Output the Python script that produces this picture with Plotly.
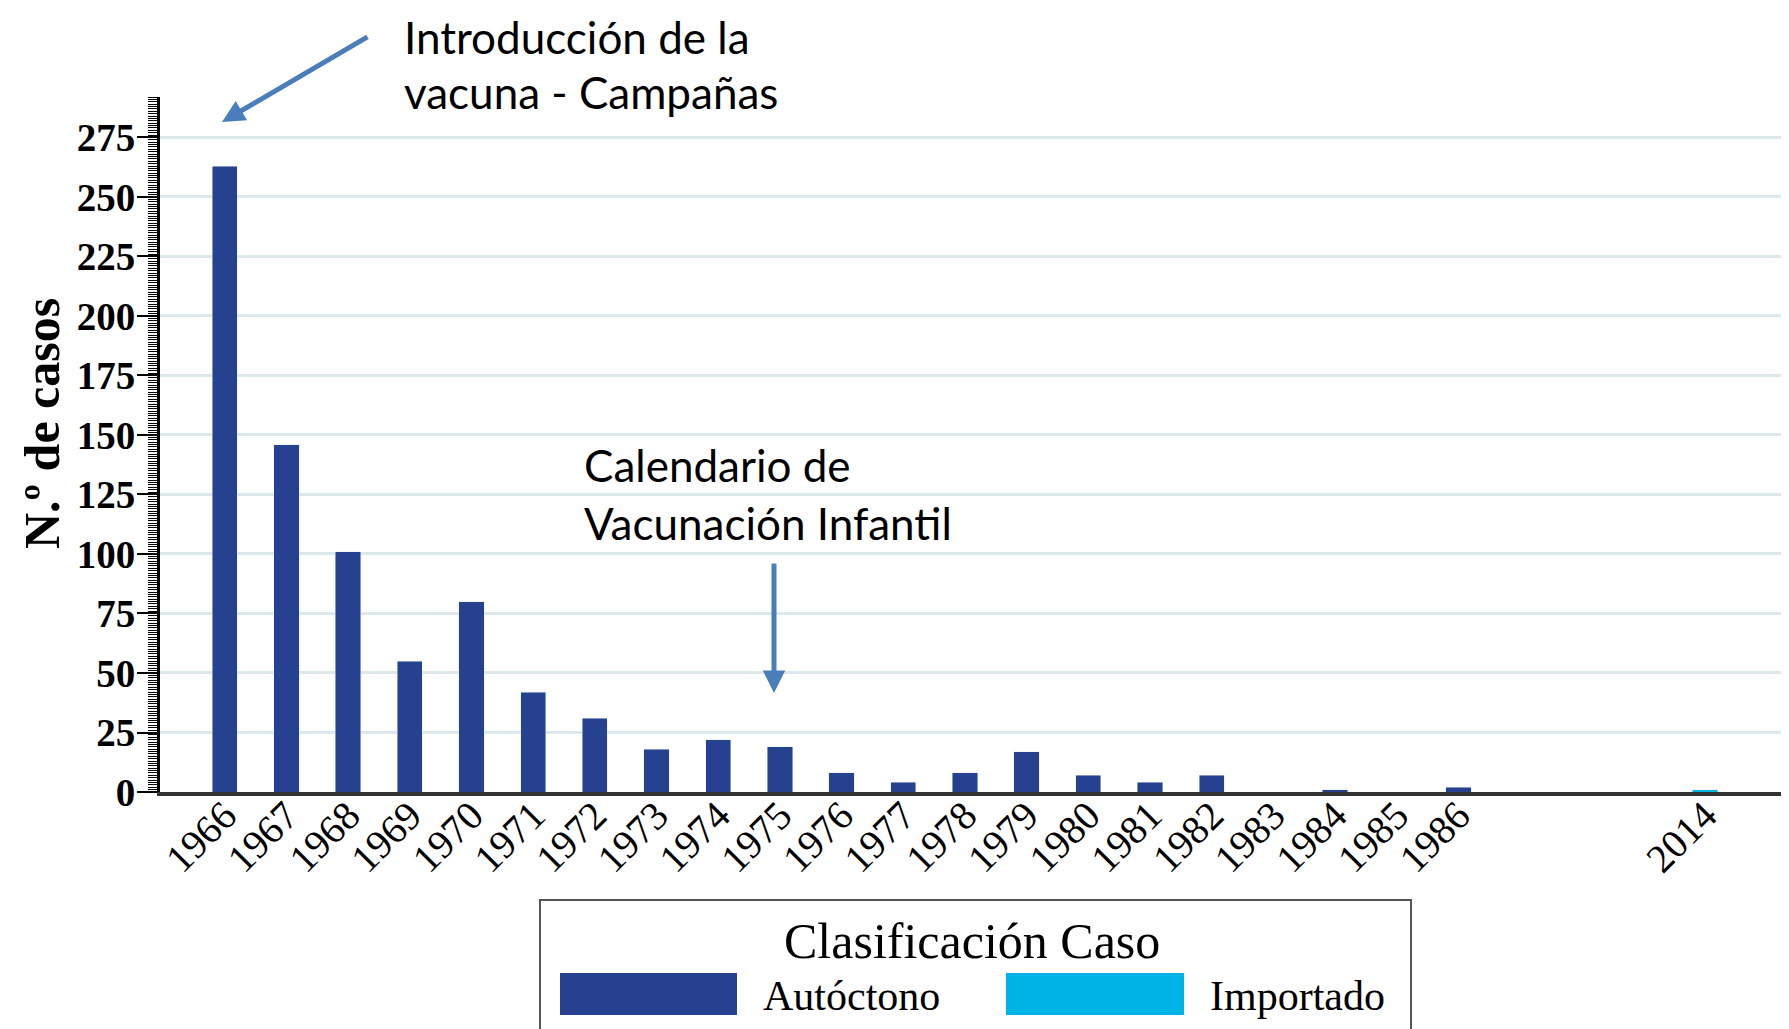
import plotly.graph_objects as go

# data
years = [str(y) for y in range(1966, 1987)]
autoctono = [263, 146, 101, 55, 80, 42, 31, 18, 22, 19, 8, 4, 8, 17, 7, 4, 7, 0, 1, 0, 2]
years_imp = ["2014"]
importado = [1]
# gap between 1986 and 2014 on the category axis
gap_slots = [" ", "  ", "   "]
axis_categories = years + gap_slots + years_imp

W, H = 1789, 1029
OFF = 8  # default body margin of the html page
L, T = 160 - OFF, 97 - OFF
B = H - (792 - OFF)
R = 0
PW, PH = W - L - R, H - T - B


def px(x, y):
    # page pixel -> paper coords
    return ((x - OFF) - L) / PW, (H - B - (y - OFF)) / PH


BLUE = "#26418f"
CYAN = "#00b3e6"
SERIF = "Liberation Serif, Times New Roman, serif"
SANS = "Lato, Carlito, Calibri, sans-serif"

fig = go.Figure()
fig.add_trace(go.Bar(x=years, y=autoctono, name="Autóctono", marker_color=BLUE, showlegend=False))
fig.add_trace(go.Bar(x=years_imp, y=importado, name="Importado", marker_color=CYAN, showlegend=False))

fig.update_layout(
    width=W, height=H,
    margin=dict(l=L, r=R, t=T, b=B, autoexpand=False),
    plot_bgcolor="white", paper_bgcolor="white",
    barmode="stack", bargap=0.59,
    font=dict(family=SERIF, color="black"),
)
fig.update_xaxes(
    type="category", categoryorder="array", categoryarray=axis_categories,
    range=[-1.05, 25.49], tickangle=-45, tickfont=dict(size=40, family=SERIF),
    ticklabelstandoff=-20,
    showline=True, linecolor="#333333", linewidth=4, ticks="", showgrid=False,
    automargin=False,
)
fig.update_yaxes(
    range=[0, 292], tickvals=list(range(0, 276, 25)),
    tickfont=dict(size=39, family=SERIF, weight="bold"),
    ticklabelstandoff=-6,
    showline=True, linecolor="black", linewidth=3,
    ticks="outside", ticklen=20, tickwidth=2, tickcolor="black",
    minor=dict(dtick=1, ticks="outside", ticklen=9, tickwidth=1, tickcolor="black"),
    showgrid=True, gridcolor="#dde8ec", gridwidth=3, zeroline=False,
    automargin=False,
)

annots = []
# y axis title, placed a bit above the plot centre as in the reference
a, b = px(42, 424)
annots.append(dict(x=a, y=b, xref="paper", yref="paper", xanchor="center", yanchor="middle",
                   text="N.º de casos", textangle=-90, showarrow=False, borderpad=0,
                   font=dict(size=50, family=SERIF, weight="bold")))
# text callouts
for (lx, ly), txt in [((403, 37), "Introducción de la"), ((403, 92), "vacuna - Campañas"),
                      ((583, 465), "Calendario de"), ((583, 523), "Vacunación Infantil")]:
    a, b = px(lx, ly)
    annots.append(dict(x=a, y=b, xref="paper", yref="paper", xanchor="left", yanchor="middle",
                       text=txt, showarrow=False, borderpad=0, font=dict(size=44, family=SANS)))
# arrows
for tip, tail in [((222, 122), (369, 36)), ((774, 693), (774, 562))]:
    xt, yt = px(*tip)
    annots.append(dict(x=xt, y=yt, xref="paper", yref="paper", text="", showarrow=True,
                       ax=tail[0] - tip[0], ay=tail[1] - tip[1], axref="pixel", ayref="pixel",
                       arrowhead=2, arrowsize=0.9, arrowwidth=5, arrowcolor="#4a7ebb"))

# custom legend (wide swatches)
shapes = []
bx0, by0 = px(540, 900)
bx1, by1 = px(1411, 1060)
shapes.append(dict(type="rect", xref="paper", yref="paper", x0=bx0, y0=by1, x1=bx1, y1=by0,
                   line=dict(color="#555555", width=2), fillcolor="white", layer="above"))
for (sx0, sx1), col in [((560, 737), BLUE), ((1006, 1184), CYAN)]:
    a0, b0 = px(sx0, 973)
    a1, b1 = px(sx1, 1015)
    shapes.append(dict(type="rect", xref="paper", yref="paper", x0=a0, y0=b1, x1=a1, y1=b0,
                       line=dict(width=0), fillcolor=col, layer="above"))
tx, ty = px(972, 941)
annots.append(dict(x=tx, y=ty, xref="paper", yref="paper", xanchor="center", yanchor="middle",
                   text="Clasificación Caso", showarrow=False, font=dict(size=50, family=SERIF)))
for lx, label in [(761, "Autóctono"), (1208, "Importado")]:
    a, b = px(lx, 996)
    annots.append(dict(x=a, y=b, xref="paper", yref="paper", xanchor="left", yanchor="middle",
                       text=label, showarrow=False, font=dict(size=42, family=SERIF)))

fig.update_layout(annotations=annots, shapes=shapes)
fig.write_html("out.html")
